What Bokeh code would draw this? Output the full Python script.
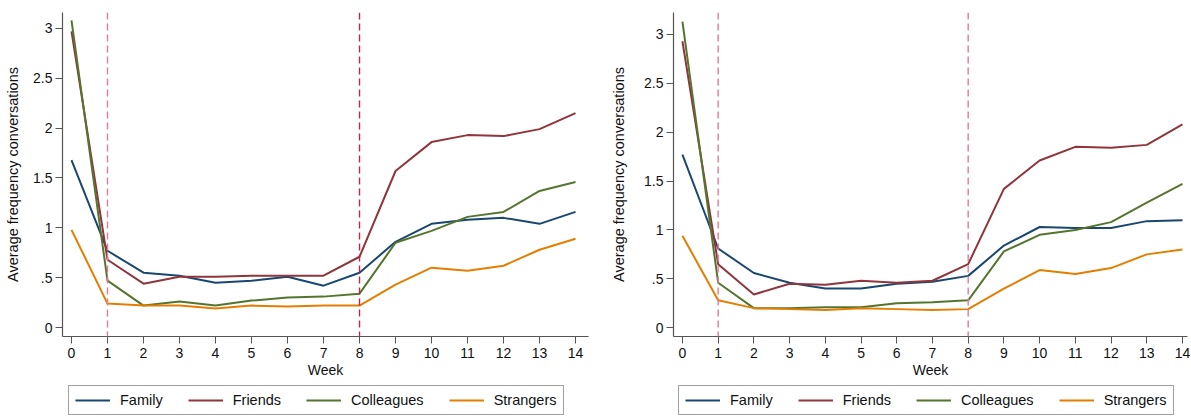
from bokeh.plotting import figure
from bokeh.models import Legend, LegendItem, Span, FixedTicker, Range1d
from bokeh.layouts import row, column
from bokeh.embed import file_html
from bokeh.resources import INLINE

weeks = list(range(15))
series_names = ["Family", "Friends", "Colleagues", "Strangers"]

# Left panel
left_family = [1.68, 0.77, 0.55, 0.52, 0.45, 0.47, 0.51, 0.42, 0.55, 0.86, 1.04, 1.08, 1.10, 1.04, 1.16]
left_friends = [2.97, 0.68, 0.44, 0.51, 0.51, 0.52, 0.52, 0.52, 0.71, 1.57, 1.86, 1.93, 1.92, 1.99, 2.15]
left_colleagues = [3.08, 0.47, 0.22, 0.26, 0.22, 0.27, 0.30, 0.31, 0.34, 0.85, 0.97, 1.11, 1.16, 1.37, 1.46]
left_strangers = [0.98, 0.24, 0.22, 0.22, 0.19, 0.22, 0.21, 0.22, 0.22, 0.43, 0.60, 0.57, 0.62, 0.78, 0.89]

# Right panel
right_family = [1.77, 0.81, 0.56, 0.46, 0.40, 0.40, 0.45, 0.47, 0.53, 0.84, 1.03, 1.02, 1.02, 1.09, 1.10]
right_friends = [2.93, 0.65, 0.34, 0.45, 0.44, 0.48, 0.46, 0.48, 0.65, 1.42, 1.71, 1.85, 1.84, 1.87, 2.08]
right_colleagues = [3.13, 0.46, 0.20, 0.20, 0.21, 0.21, 0.25, 0.26, 0.28, 0.78, 0.95, 1.00, 1.08, 1.28, 1.47]
right_strangers = [0.94, 0.28, 0.20, 0.19, 0.18, 0.20, 0.19, 0.18, 0.19, 0.40, 0.59, 0.55, 0.61, 0.75, 0.80]

y_ticks = [0, 0.5, 1, 1.5, 2, 2.5, 3]
y_tick_labels = ["0", ".5", "1", "1.5", "2", "2.5", "3"]
event_weeks = [1, 8]

colors = ["#1a476f", "#90353b", "#55752f", "#e37e00"]
FONT = "Liberation Sans"


def make_panel(data, width, border_left, border_right, x_end, y_top, vline_colors,
               legend_x, ylabel_standoff):
    p = figure(width=width, height=380, output_backend="svg", toolbar_location=None,
               x_range=Range1d(-0.25, x_end), y_range=Range1d(-0.09, y_top),
               min_border_left=border_left, min_border_right=border_right,
               min_border_top=12, min_border_bottom=43)
    p.xgrid.visible = False
    p.ygrid.visible = False
    p.outline_line_color = None
    p.background_fill_color = "white"

    for wk, vc in zip(event_weeks, vline_colors):
        p.add_layout(Span(location=wk, dimension="height", line_color=vc,
                          line_dash="7 4", line_width=1.4))

    for vals, c in zip(data, colors):
        p.line(weeks, vals, line_color=c, line_width=2)

    for ax in (p.xaxis, p.yaxis):
        ax.axis_line_color = "#555555"
        ax.axis_line_width = 1.2
        ax.major_tick_line_color = "#555555"
        ax.minor_tick_line_color = None
        ax.major_tick_out = 7
        ax.major_tick_in = 0
        ax.major_label_text_font = FONT
        ax.major_label_text_font_size = "14px"
        ax.major_label_text_color = "#111111"
        ax.axis_label_text_font = FONT
        ax.axis_label_text_font_size = "14px"
        ax.axis_label_text_font_style = "normal"
        ax.axis_label_text_color = "#111111"

    p.xaxis.ticker = FixedTicker(ticks=weeks)
    p.xaxis.axis_label = "Week"
    p.xaxis.axis_label_standoff = 1
    p.xaxis.major_label_standoff = 4
    p.yaxis.ticker = FixedTicker(ticks=y_ticks)
    p.yaxis.major_label_overrides = {t: l for t, l in zip(y_ticks, y_tick_labels)}
    p.yaxis.axis_label = "Average frequency conversations"
    p.yaxis.axis_label_text_font_size = "14.5px"
    p.yaxis.axis_label_standoff = ylabel_standoff
    p.yaxis.major_label_standoff = 3

    # legend strip below the chart (its lines lie outside the visible range)
    lg = figure(width=width, height=37, output_backend="svg", toolbar_location=None,
                x_range=Range1d(100, 101), y_range=Range1d(100, 101),
                x_axis_location=None, y_axis_location=None,
                min_border_left=border_left, min_border_right=border_right,
                min_border_top=0, min_border_bottom=0)
    lg.grid.visible = False
    lg.outline_line_color = None
    rs = [lg.line(weeks, vals, line_color=c, line_width=2) for vals, c in zip(data, colors)]
    items = [LegendItem(label=n, renderers=[r]) for n, r in zip(series_names, rs)]
    legend = Legend(items=items, orientation="horizontal", location=(legend_x, 2),
                    label_text_font=FONT, label_text_font_size="14.5px",
                    label_text_color="#111111", label_height=16,
                    glyph_width=35, glyph_height=14, label_standoff=10,
                    spacing=25, padding=6, margin=0,
                    border_line_color="#444444", border_line_width=1.3,
                    background_fill_alpha=1.0)
    lg.add_layout(legend, "center")
    return column(p, lg, spacing=0)


left = make_panel([left_family, left_friends, left_colleagues, left_strangers],
                  590, 62, 2, 14.36, 3.16, ["#e8799a", "#c0264a"], 6, 9)
right = make_panel([right_family, right_friends, right_colleagues, right_strangers],
                   600, 83, 3, 14.14, 3.224, ["#e8799a", "#e8799a"], 5, 14)

layout = row(left, right, spacing=0)
open("out.html", "w").write(file_html(layout, INLINE))
